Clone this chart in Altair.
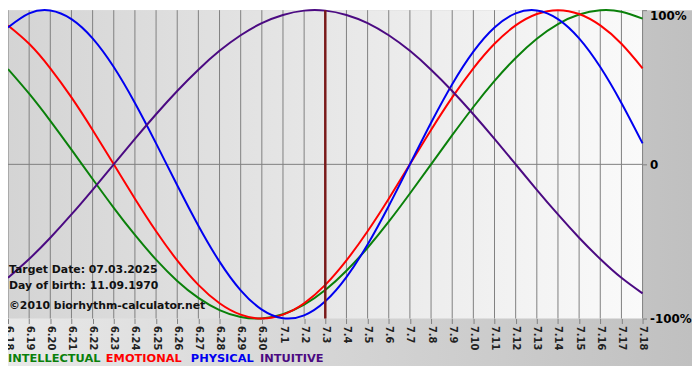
import altair as alt
import pandas as pd

# ---------------- data ----------------
day_labels = ['6.18', '6.19', '6.20', '6.21', '6.22', '6.23', '6.24', '6.25', '6.26', '6.27',
              '6.28', '6.29', '6.30', '7.1', '7.2', '7.3', '7.4', '7.5', '7.6', '7.7',
              '7.8', '7.9', '7.10', '7.11', '7.12', '7.13', '7.14', '7.15', '7.16', '7.17', '7.18']
days = list(range(len(day_labels)))

physical = [0.888, 0.979, 0.998, 0.942, 0.817, 0.631, 0.398, 0.136, -0.136, -0.398, -0.631, -0.817,
            -0.942, -0.998, -0.979, -0.888, -0.731, -0.520, -0.270, 0.000, 0.270, 0.520, 0.731, 0.888,
            0.979, 0.998, 0.942, 0.817, 0.631, 0.398, 0.136]
emotional = [0.901, 0.782, 0.623, 0.434, 0.223, 0.000, -0.223, -0.434, -0.623, -0.782, -0.901, -0.975,
             -1.000, -0.975, -0.901, -0.782, -0.623, -0.434, -0.223, 0.000, 0.223, 0.434, 0.623, 0.782,
             0.901, 0.975, 1.000, 0.975, 0.901, 0.782, 0.623]
intellectual = [0.618, 0.458, 0.282, 0.095, -0.095, -0.282, -0.458, -0.618, -0.756, -0.866, -0.945, -0.990,
                -0.999, -0.972, -0.910, -0.815, -0.690, -0.541, -0.372, -0.189, 0.000, 0.189, 0.372, 0.541,
                0.690, 0.815, 0.910, 0.972, 0.999, 0.990, 0.945]
intuitive = [-0.736, -0.614, -0.476, -0.325, -0.165, 0.000, 0.165, 0.325, 0.476, 0.614, 0.736, 0.837,
             0.916, 0.969, 0.997, 0.997, 0.969, 0.916, 0.837, 0.736, 0.614, 0.476, 0.325, 0.165,
             0.000, -0.165, -0.325, -0.476, -0.614, -0.736, -0.837]

series_names = ['INTELLECTUAL', 'EMOTIONAL', 'PHYSICAL', 'INTUITIVE']
series_colors = ['#0a800a', '#ff0000', '#0000f0', '#4b0a82']
target_day = 15  # 7.3
y_tick_values = [-1, 0, 1]
y_tick_labels = ['-100%', '0', '100%']
info_lines = ['Target Date: 07.03.2025', 'Day of birth: 11.09.1970', '\u00a92010 biorhythm-calculator.net']

# ---------------- layout ----------------
W, H = 642, 312
FULL_W, FULL_H = 692, 360
FONT = 'DejaVu Sans'

series_values = [intellectual, emotional, physical, intuitive]
rows = []
for name, vals in zip(series_names, series_values):
    for d, v in zip(days, vals):
        rows.append({'day': d, 'value': v, 'series': name})
curves_df = pd.DataFrame(rows)
days_df = pd.DataFrame({'day': days})
one = pd.DataFrame({'a': [0]})

label_expr = '[' + ','.join("'%s'" % s for s in day_labels) + '][datum.value]'
y_label_expr = ' : '.join("datum.value == %s ? '%s'" % (v, l) for v, l in zip(y_tick_values, y_tick_labels)) + " : ''"

x_scale = alt.Scale(domain=[0, len(days) - 1], nice=False, zero=False)
y_scale = alt.Scale(domain=[-1, 1], nice=False, zero=False)
x_axis = alt.Axis(values=days, labelExpr=label_expr, labelAngle=90, labelFontSize=10,
                  labelFontWeight='bold', labelColor='#222222', labelFont=FONT, labelFlush=False,
                  labelOverlap=False, labelPadding=2, tickColor='#808080', tickSize=5,
                  domain=False, grid=False, zindex=1, title=None)
y_axis = alt.Axis(orient='right', values=y_tick_values, labelExpr=y_label_expr, labelFontSize=12,
                  labelFontWeight='bold', labelColor='#000000', labelFont=FONT, labelPadding=3,
                  labelBaseline={'condition': {'test': 'datum.value == 1', 'value': 'top'}, 'value': 'middle'},
                  tickColor='#808080', tickSize=4, domain=False, grid=False, zindex=1, title=None)


def X(f):
    return alt.X(f, scale=x_scale, axis=x_axis)


def Y(f):
    return alt.Y(f, scale=y_scale, axis=y_axis)


outer_bg = alt.Chart(one).mark_rect(
    color=alt.LinearGradient(gradient='linear', x1=0, x2=1, y1=0, y2=0,
                             stops=[alt.GradientStop(color='#e8e8e8', offset=0),
                                    alt.GradientStop(color='#c0c0c0', offset=1)])
).encode(x=alt.value(0), x2=alt.value(FULL_W), y=alt.value(0), y2=alt.value(FULL_H))

plot_bg = alt.Chart(one).mark_rect(
    color=alt.LinearGradient(gradient='linear', x1=0, x2=1, y1=0, y2=0,
                             stops=[alt.GradientStop(color='#d4d4d4', offset=0),
                                    alt.GradientStop(color='#fafafa', offset=1)])
).encode(x=alt.value(0), x2=alt.value(W), y=alt.value(0), y2=alt.value(H))

grid = alt.Chart(days_df).mark_rule(color='#808080', strokeWidth=1).encode(x=X('day:Q'))
zero = alt.Chart(one).mark_rule(color='#808080', strokeWidth=1).encode(
    y=alt.Y(datum=0, scale=y_scale, axis=y_axis))

curves = alt.Chart(curves_df).mark_line(strokeWidth=2, interpolate='natural').encode(
    x=X('day:Q'),
    y=Y('value:Q'),
    color=alt.Color('series:N', scale=alt.Scale(domain=series_names, range=series_colors), legend=None),
)

target = alt.Chart(one).mark_rule(color='#7a1a1a', strokeWidth=2.5).encode(
    x=alt.X(datum=target_day, scale=x_scale, axis=x_axis))

info_df = pd.DataFrame({'text': info_lines, 'ypix': [263, 279, 299]})
info = alt.Chart(info_df).mark_text(align='left', baseline='middle', font=FONT, fontSize=11,
                                    fontWeight='bold', color='#111111').encode(
    x=alt.value(1), y=alt.Y('ypix:Q', scale=None), text='text:N')

legend_df = pd.DataFrame({'name': series_names, 'xpix': [0, 99, 185, 255]})
legend = alt.Chart(legend_df).mark_text(align='left', baseline='middle', font=FONT, fontSize=11.5,
                                        fontWeight='bold').encode(
    x=alt.X('xpix:Q', scale=None), y=alt.value(353), text='name:N',
    color=alt.Color('name:N', scale=alt.Scale(domain=series_names, range=series_colors), legend=None))

chart = alt.layer(outer_bg, plot_bg, grid, zero, curves, target, info, legend).properties(
    width=W, height=H,
    autosize=alt.AutoSizeParams(type='none'),
    padding={'left': 0, 'top': 0, 'right': FULL_W - W, 'bottom': 60},
).resolve_scale(color='independent').configure_view(strokeWidth=0).configure(background='white', font=FONT)

chart.save('out.html', embed_options={'renderer': 'svg', 'actions': False})
